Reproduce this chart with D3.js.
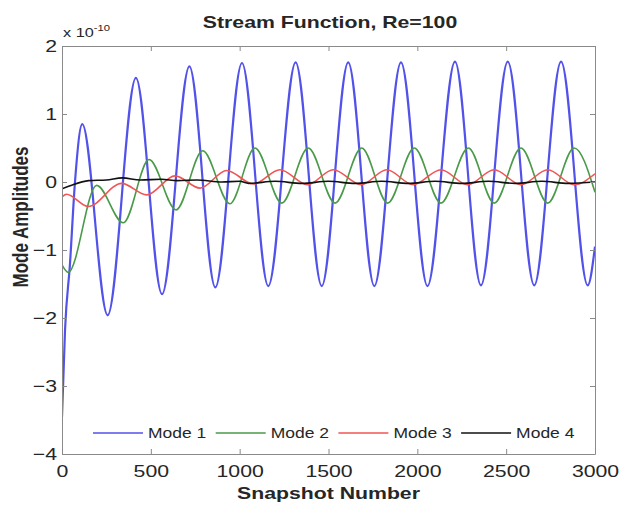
<!DOCTYPE html>
<html>
<head>
<meta charset="utf-8">
<script src="https://cdn.jsdelivr.net/npm/d3@7"></script>
<style>
  html, body { margin: 0; padding: 0; background: #fff; }
  svg { display: block; }
  text { font-family: "Liberation Sans", Arial, sans-serif; fill: #262626; }
</style>
</head>
<body>
<svg id="chart" width="620" height="509"></svg>
<script>
// Mode amplitudes (units of 1e-10) at key snapshots: turning points of each mode
const mode1 = [[0,-3.45],[17,-2.18],[45,-1.2],[73,0.0],[114,0.85],[257,-1.96],[416,1.53],[563,-1.65],
  [717,1.70],[863,-1.55],[1013,1.75],[1161,-1.53],[1315,1.76],[1462,-1.53],[1611,1.76],[1758,-1.53],
  [1908,1.76],[2057,-1.53],[2212,1.77],[2358,-1.52],[2509,1.77],[2658,-1.52],[2809,1.77],[2959,-1.52],[3000,-0.95]];
const mode2 = [[0,-1.22],[35,-1.33],[195,-0.05],[345,-0.60],[490,0.33],[642,-0.41],[792,0.46],[945,-0.32],
  [1086,0.50],[1237,-0.31],[1386,0.50],[1537,-0.31],[1687,0.50],[1833,-0.31],[1983,0.50],[2133,-0.31],
  [2287,0.50],[2433,-0.31],[2583,0.50],[2734,-0.31],[2883,0.50],[3000,-0.15]];
const mode3 = [[0,-0.22],[25,-0.18],[148,-0.36],[336,-0.02],[477,-0.19],[636,0.09],[777,-0.09],[927,0.17],
  [1077,-0.03],[1227,0.18],[1381,-0.04],[1527,0.18],[1683,-0.04],[1828,0.18],[1977,-0.04],[2133,0.18],
  [2283,-0.04],[2433,0.18],[2583,-0.04],[2734,0.18],[2883,-0.04],[3000,0.12]];
const mode4 = [[0,-0.10],[50,-0.05],[150,0.02],[250,0.03],[340,0.06],[440,0.03],[560,0.04],[650,0.02],
  [760,0.03],[900,0.0],[1000,0.01],[1050,-0.02],[1200,0.01],[1350,-0.02],[1500,0.01],[1650,-0.02],
  [1800,0.01],[1950,-0.02],[2100,0.01],[2250,-0.02],[2400,0.01],[2550,-0.02],[2700,0.01],[2850,-0.02],[3000,0.0]];

const seriesNames = ["Mode 1", "Mode 2", "Mode 3", "Mode 4"];
const seriesData = [mode1, mode2, mode3, mode4];
const seriesColors = ["#5252ea", "#4a9a4a", "#f05555", "#111111"];
const seriesWidths = [2.2, 1.6, 1.6, 1.6];

const xTicks = [0, 500, 1000, 1500, 2000, 2500, 3000];
const yTicks = [-4, -3, -2, -1, 0, 1, 2];

const titleText = "Stream Function, Re=100";
const xLabel = "Snapshot Number";
const yLabel = "Mode Amplitudes";

// the figure is rendered wider than tall, so glyphs are widened horizontally
const SX = 1.25;

const svg = d3.select("#chart");
const L = 62, R = 595, T = 46, B = 454;

const x = d3.scaleLinear().domain([0, 3000]).range([L, R]);
const y = d3.scaleLinear().domain([-4, 2]).range([B, T]);

svg.append("rect").attr("width", 620).attr("height", 509).attr("fill", "#fff");

svg.append("defs").append("clipPath").attr("id", "plot-clip")
  .append("rect").attr("x", L).attr("y", T).attr("width", R - L).attr("height", B - T);

// curves
const line = d3.line().x(d => x(d[0])).y(d => y(d[1])).curve(d3.curveMonotoneX);
const g = svg.append("g").attr("clip-path", "url(#plot-clip)");
seriesData.forEach((s, i) => {
  g.append("path").datum(s).attr("d", line)
    .attr("fill", "none").attr("stroke", seriesColors[i])
    .attr("stroke-width", seriesWidths[i]).attr("stroke-linejoin", "round");
});

// axes with inward ticks on all four sides
const axisColor = "#8a8a8a";
function styleAxis(sel) {
  sel.select(".domain").attr("stroke", axisColor);
  sel.selectAll(".tick line").attr("stroke", axisColor);
}
function widenTickText(sel) {
  sel.selectAll("text").each(function () {
    const t = d3.select(this);
    const tx = +t.attr("x") || 0;
    t.attr("x", tx / SX).attr("transform", `scale(${SX},1)`)
      .attr("font-size", "17px").attr("fill", "#262626").attr("font-family", null);
  });
}
svg.append("g").attr("transform", `translate(0,${B})`)
  .call(d3.axisBottom(x).tickValues(xTicks).tickSize(-5).tickSizeOuter(0).tickPadding(11).tickFormat(d3.format("d")))
  .call(styleAxis).call(widenTickText);
svg.append("g").attr("transform", `translate(0,${T})`)
  .call(d3.axisTop(x).tickValues(xTicks).tickSize(-5).tickSizeOuter(0).tickFormat(""))
  .call(styleAxis);
svg.append("g").attr("transform", `translate(${L},0)`)
  .call(d3.axisLeft(y).tickValues(yTicks).tickSize(-5).tickSizeOuter(0).tickPadding(5).tickFormat(d3.format("d")))
  .call(styleAxis).call(widenTickText);
svg.append("g").attr("transform", `translate(${R},0)`)
  .call(d3.axisRight(y).tickValues(yTicks).tickSize(-5).tickSizeOuter(0).tickFormat(""))
  .call(styleAxis);

function label(px, py, extra) {
  return svg.append("text").attr("transform", `translate(${px},${py}) scale(${SX},1)${extra || ""}`);
}

// exponent label
const ex = label(L + 1, 37).attr("font-size", "13px");
ex.append("tspan").text("x 10");
ex.append("tspan").attr("dy", -6).attr("font-size", "9px").text("-10");

// title and axis labels
label(330, 28).attr("text-anchor", "middle")
  .attr("font-size", "17px").attr("font-weight", "bold").text(titleText);
label((L + R) / 2, 499).attr("text-anchor", "middle")
  .attr("font-size", "17px").attr("font-weight", "bold").text(xLabel);
label(28, 217, " rotate(-90)").attr("text-anchor", "middle")
  .attr("font-size", "17px").attr("font-weight", "bold").text(yLabel);

// legend (no frame) along the bottom of the plot
seriesNames.forEach((name, i) => {
  const x0 = 93 + i * 122.7, yy = 433;
  svg.append("line").attr("x1", x0).attr("x2", x0 + 50).attr("y1", yy).attr("y2", yy)
    .attr("stroke", seriesColors[i]).attr("stroke-width", 1.6);
  label(x0 + 55, yy + 5).attr("font-size", "14px").text(name);
});
</script>
</body>
</html>
